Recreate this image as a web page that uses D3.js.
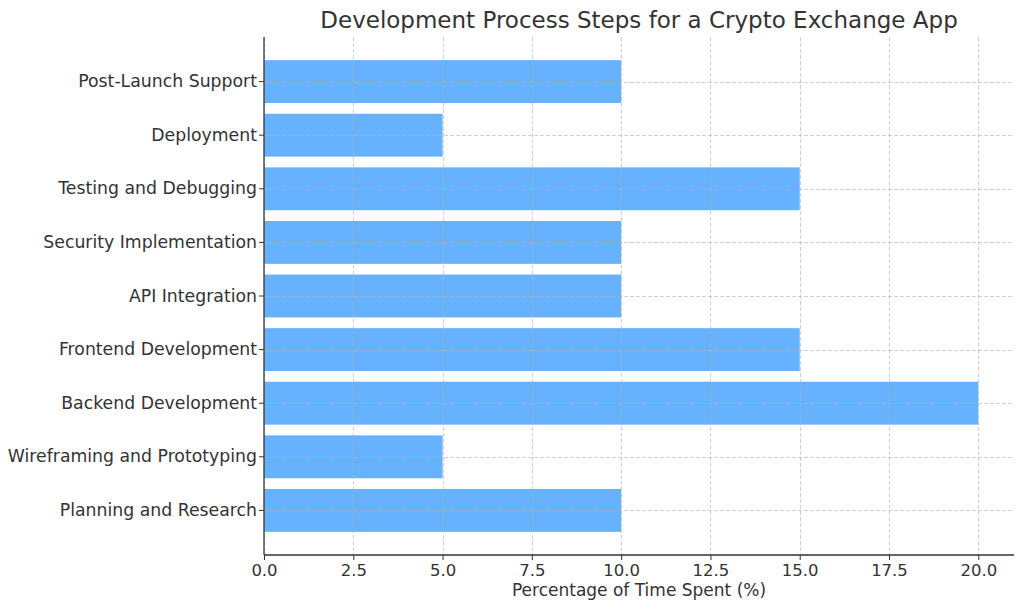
<!DOCTYPE html>
<html>
<head>
<meta charset="utf-8">
<script src="https://cdn.jsdelivr.net/npm/d3@7"></script>
<style>
  body { margin: 0; background: #fff; }
  text { font-family: "DejaVu Sans", sans-serif; fill: #333; }
</style>
</head>
<body>
<div id="chart"></div>
<script>
var width = 1024;
var height = 610;

// data
var steps = [
  "Planning and Research",
  "Wireframing and Prototyping",
  "Backend Development",
  "Frontend Development",
  "API Integration",
  "Security Implementation",
  "Testing and Debugging",
  "Deployment",
  "Post-Launch Support"
];
var percents = [10, 5, 20, 15, 10, 10, 15, 5, 10];
var xTicks = [0, 2.5, 5, 7.5, 10, 12.5, 15, 17.5, 20];

var plotLeft = 264, plotRight = 1014, plotTop = 37, plotBottom = 555;

var svg = d3.select("#chart")
  .append("svg")
  .attr("width", width)
  .attr("height", height);

var xScale = d3.scaleLinear().domain([0, 21]).range([plotLeft, plotRight]);
// first category at the bottom, like matplotlib barh
var yScale = d3.scaleBand()
  .domain(steps.slice().reverse())
  .range([plotTop, plotBottom])
  .paddingInner(0.2)
  .paddingOuter(0.432);

// bars
svg.append("g")
  .selectAll("rect")
  .data(steps)
  .enter()
  .append("rect")
  .attr("x", xScale(0))
  .attr("y", function (d) { return yScale(d); })
  .attr("width", function (d, i) { return xScale(percents[i]) - xScale(0); })
  .attr("height", yScale.bandwidth())
  .attr("fill", "#66b2ff");

// grid on top of bars
var grid = svg.append("g")
  .attr("stroke", "#b0b0b0")
  .attr("stroke-opacity", 0.6)
  .attr("stroke-width", 1)
  .attr("stroke-dasharray", "4,2");

grid.selectAll(".vgrid")
  .data(xTicks)
  .enter()
  .append("line")
  .attr("class", "vgrid")
  .attr("x1", function (d) { return Math.round(xScale(d)) + 0.5; })
  .attr("x2", function (d) { return Math.round(xScale(d)) + 0.5; })
  .attr("y1", plotTop)
  .attr("y2", plotBottom);

grid.selectAll(".hgrid")
  .data(steps)
  .enter()
  .append("line")
  .attr("class", "hgrid")
  .attr("x1", plotLeft)
  .attr("x2", plotRight)
  .attr("y1", function (d) { return Math.round(yScale(d) + yScale.bandwidth() / 2) + 0.5; })
  .attr("y2", function (d) { return Math.round(yScale(d) + yScale.bandwidth() / 2) + 0.5; });

// axes
var xAxis = d3.axisBottom(xScale)
  .tickValues(xTicks)
  .tickFormat(d3.format(".1f"))
  .tickSize(5)
  .tickPadding(4);

var yAxis = d3.axisLeft(yScale)
  .tickSize(5)
  .tickPadding(2);

var gx = svg.append("g")
  .attr("transform", "translate(0," + plotBottom + ")")
  .call(xAxis);

var gy = svg.append("g")
  .attr("transform", "translate(" + plotLeft + ",0)")
  .call(yAxis);

[gx, gy].forEach(function (g) {
  g.select(".domain").attr("stroke", "#333").attr("stroke-width", 1.3);
  g.selectAll(".tick line").attr("stroke", "#333");
  g.selectAll(".tick text")
    .attr("fill", "#333")
    .attr("font-family", "DejaVu Sans, sans-serif");
});
gx.selectAll(".tick text").attr("font-size", "16.5px");
gy.selectAll(".tick text").attr("font-size", "17.3px");
// no outer ticks at the spine ends
gx.select(".domain").attr("d", "M" + plotLeft + ",0H" + plotRight);
gy.select(".domain").attr("d", "M0," + plotTop + "V" + plotBottom);

// title and axis label
svg.append("text")
  .attr("x", (plotLeft + plotRight) / 2)
  .attr("y", 28)
  .attr("text-anchor", "middle")
  .attr("font-size", "23px")
  .text("Development Process Steps for a Crypto Exchange App");

svg.append("text")
  .attr("x", (plotLeft + plotRight) / 2)
  .attr("y", 596)
  .attr("text-anchor", "middle")
  .attr("font-size", "17px")
  .text("Percentage of Time Spent (%)");
</script>
</body>
</html>
